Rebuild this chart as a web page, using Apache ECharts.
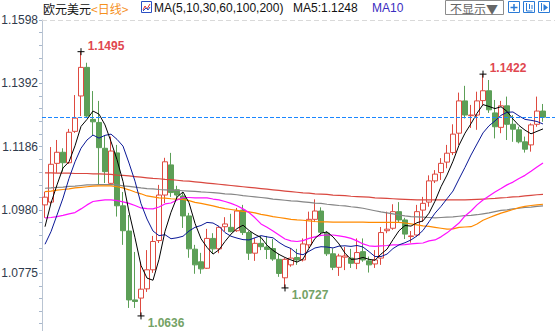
<!DOCTYPE html>
<html>
<head>
<meta charset="utf-8">
<script src="https://cdn.jsdelivr.net/npm/echarts@6/dist/echarts.min.js"></script>
<style>
html,body{margin:0;padding:0;background:#fff;}
#chart{width:555px;height:331px;}
</style>
</head>
<body>
<div id="chart"></div>
<script>
// ---- data ----
const days = ['1','2','3','4','5','6','7','8','9','10','11','12','13','14','15','16','17','18','19','20',
 '21','22','23','24','25','26','27','28','29','30','31','32','33','34','35','36','37','38','39','40',
 '41','42','43','44','45','46','47','48','49','50','51','52','53','54','55','56','57','58','59','60',
 '61','62','63','64','65','66','67','68','69','70','71','72','73','74','75','76','77','78','79','80',
 '81','82','83','84'];
const padDays = ['', ''];

const opens = [1.0997,1.1006,1.1132,1.1168,1.1134,1.1236,1.1351,1.1444,1.1275,1.1265,
 1.1181,1.1067,1.1166,1.0994,1.0912,1.0688,1.0694,1.0724,1.0786,1.0881,
 1.1029,1.1127,1.1046,1.1026,1.0961,1.0853,1.0812,1.0791,1.0888,1.0854,
 1.0926,1.0924,1.0913,1.0980,1.0907,1.0840,1.0872,1.0860,1.0855,1.0820,
 1.0760,1.0802,1.0826,1.0818,1.0867,1.0950,1.0977,1.0905,1.0838,1.0794,
 1.0827,1.0824,1.0807,1.0845,1.0815,1.0805,1.0824,1.0913,1.0921,1.0975,
 1.0948,1.0894,1.0899,1.0980,1.1006,1.1075,1.1102,1.1136,1.1167,1.1230,
 1.1335,1.1287,1.1289,1.1336,1.1368,1.1296,1.1249,1.1319,1.1259,1.1241,
 1.1202,1.1192,1.1259,1.1302];
const closes = [1.1022,1.1129,1.1168,1.1134,1.1233,1.1279,1.1444,1.1286,1.1267,1.1183,
 1.1105,1.1172,1.0994,1.0913,1.0688,1.0683,1.0723,1.0786,1.0878,1.1029,
 1.1137,1.1037,1.1029,1.0961,1.0854,1.0802,1.0789,1.0888,1.0854,1.0924,
 1.0935,1.0910,1.0977,1.0907,1.0840,1.0872,1.0861,1.0852,1.0821,1.0774,
 1.0820,1.0824,1.0818,1.0870,1.0950,1.0977,1.0908,1.0838,1.0794,1.0831,
 1.0831,1.0807,1.0842,1.0818,1.0802,1.0818,1.0907,1.0918,1.0975,1.0948,
 1.0902,1.0896,1.0975,1.1002,1.1075,1.1097,1.1132,1.1165,1.1227,1.1335,
 1.1289,1.1289,1.1335,1.1368,1.1306,1.1251,1.1319,1.1259,1.1243,1.1202,
 1.1178,1.1257,1.1302,1.1282];
const lows = [1.0955,1.0999,1.1101,1.1105,1.1130,1.1231,1.1286,1.1280,1.1224,1.1062,
 1.1068,1.1062,1.0959,1.0867,1.0662,1.0662,1.0636,1.0714,1.0776,1.0873,
 1.1003,1.1023,1.1016,1.0922,1.0825,1.0773,1.0773,1.0789,1.0840,1.0840,
 1.0910,1.0908,1.0909,1.0899,1.0818,1.0815,1.0850,1.0821,1.0815,1.0763,
 1.0727,1.0796,1.0802,1.0813,1.0857,1.0941,1.0896,1.0831,1.0785,1.0766,
 1.0785,1.0792,1.0788,1.0812,1.0777,1.0792,1.0802,1.0905,1.0916,1.0939,
 1.0886,1.0874,1.0894,1.0942,1.0991,1.1068,1.1078,1.1116,1.1159,1.1192,
 1.1278,1.1247,1.1241,1.1322,1.1296,1.1213,1.1230,1.1208,1.1202,1.1197,
 1.1167,1.1170,1.1251,1.1267];
const highs = [1.1040,1.1185,1.1208,1.1181,1.1244,1.1354,1.1495,1.1459,1.1367,1.1335,
 1.1224,1.1219,1.1192,1.1039,1.0964,1.0844,1.0812,1.0850,1.0896,1.1062,
 1.1150,1.1166,1.1059,1.1036,1.0971,1.0867,1.0841,1.0919,1.0905,1.0928,
 1.0957,1.0968,1.0987,1.0997,1.0912,1.0889,1.0896,1.0896,1.0886,1.0838,
 1.0824,1.0856,1.0854,1.0888,1.0975,1.1015,1.0989,1.0912,1.0856,1.0838,
 1.0860,1.0854,1.0888,1.0888,1.0829,1.0850,1.0925,1.0975,1.0999,1.1006,
 1.0955,1.0912,1.0997,1.1023,1.1093,1.1110,1.1149,1.1192,1.1259,1.1362,
 1.1384,1.1322,1.1365,1.1422,1.1403,1.1338,1.1335,1.1349,1.1289,1.1251,
 1.1219,1.1262,1.1349,1.1325];

// MA5 / MA10 values at the first points (their windows start before the visible range)
const ma5Head = [1.0926,1.1003,1.1062,1.1117];
const ma10Head = [1.0869,1.0910,1.0964,1.1019,1.1083,1.1137,1.1181,1.1208,1.1224];

const ma30 = [1.0955,1.0956,1.0959,1.0963,1.0968,1.0972,1.0984,1.0997,1.1008,1.1011,
 1.1013,1.1013,1.1011,1.1007,1.1002,1.0995,1.0987,1.0985,1.0984,1.0990,
 1.1000,1.1003,1.1013,1.1021,1.1021,1.1020,1.1020,1.1020,1.1016,1.1013,
 1.1008,1.1002,1.0994,1.0984,1.0972,1.0955,1.0935,1.0924,1.0912,1.0899,
 1.0886,1.0880,1.0878,1.0881,1.0888,1.0893,1.0898,1.0899,1.0899,1.0896,
 1.0893,1.0888,1.0880,1.0870,1.0864,1.0862,1.0864,1.0865,1.0867,1.0867,
 1.0868,1.0870,1.0872,1.0873,1.0880,1.0883,1.0893,1.0906,1.0922,1.0938,
 1.0961,1.0977,1.0997,1.1013,1.1026,1.1039,1.1050,1.1062,1.1071,1.1083,
 1.1093,1.1106,1.1120,1.1133];
const ma60 = [1.1040,1.1042,1.1045,1.1047,1.1049,1.1052,1.1054,1.1056,1.1058,1.1059,
 1.1059,1.1059,1.1056,1.1052,1.1046,1.1039,1.1033,1.1026,1.1023,1.1020,
 1.1019,1.1017,1.1016,1.1015,1.1011,1.1005,1.1002,1.0998,1.0994,1.0989,
 1.0985,1.0982,1.0979,1.0976,1.0974,1.0971,1.0966,1.0963,1.0959,1.0956,
 1.0953,1.0950,1.0948,1.0947,1.0945,1.0943,1.0942,1.0942,1.0941,1.0941,
 1.0941,1.0941,1.0941,1.0941,1.0940,1.0940,1.0940,1.0940,1.0940,1.0940,
 1.0938,1.0935,1.0932,1.0929,1.0927,1.0924,1.0921,1.0918,1.0919,1.0924,
 1.0925,1.0926,1.0935,1.0947,1.0955,1.0963,1.0970,1.0976,1.0982,1.0988,
 1.0992,1.0995,1.0997,1.0999];
const ma100 = [1.1051,1.1052,1.1054,1.1055,1.1057,1.1058,1.1060,1.1062,1.1062,1.1063,
 1.1063,1.1063,1.1062,1.1059,1.1057,1.1055,1.1052,1.1050,1.1049,1.1047,
 1.1046,1.1045,1.1044,1.1043,1.1042,1.1041,1.1039,1.1038,1.1037,1.1035,
 1.1033,1.1032,1.1030,1.1027,1.1025,1.1023,1.1021,1.1019,1.1016,1.1014,
 1.1012,1.1010,1.1009,1.1007,1.1005,1.1003,1.1002,1.0999,1.0997,1.0995,
 1.0994,1.0991,1.0989,1.0986,1.0982,1.0978,1.0974,1.0971,1.0968,1.0964,
 1.0961,1.0959,1.0958,1.0957,1.0956,1.0955,1.0956,1.0957,1.0958,1.0960,
 1.0962,1.0963,1.0965,1.0968,1.0971,1.0975,1.0979,1.0981,1.0984,1.0986,
 1.0989,1.0990,1.0992,1.0994];
const ma200 = [1.1101,1.1101,1.1100,1.1100,1.1100,1.1099,1.1099,1.1099,1.1098,1.1098,
 1.1097,1.1096,1.1094,1.1093,1.1091,1.1089,1.1087,1.1085,1.1083,1.1082,
 1.1080,1.1079,1.1077,1.1075,1.1074,1.1072,1.1070,1.1068,1.1066,1.1064,
 1.1062,1.1060,1.1058,1.1056,1.1054,1.1052,1.1050,1.1048,1.1046,1.1044,
 1.1042,1.1040,1.1038,1.1036,1.1035,1.1033,1.1032,1.1031,1.1029,1.1028,
 1.1027,1.1025,1.1024,1.1023,1.1022,1.1020,1.1019,1.1018,1.1017,1.1016,
 1.1015,1.1014,1.1013,1.1013,1.1013,1.1013,1.1013,1.1013,1.1013,1.1013,
 1.1013,1.1014,1.1015,1.1016,1.1017,1.1018,1.1020,1.1021,1.1023,1.1024,
 1.1026,1.1028,1.1030,1.1031];

const yLabels = [1.1598, 1.1392, 1.1186, 1.0980, 1.0775];
const yMin = 1.0587, yMax = 1.1598;

// marked extremes: candle indices
const markHigh = [6, 73];
const markLow = [16, 40];

const titleText = '欧元美元';
const periodText = '<日线>';
const maTitle = 'MA(5,10,30,60,100,200)';
const ma5Text = 'MA5:1.1248';
const ma10Text = 'MA10';
const hideText = '不显示▼';

// ---- build ----
function movingAvg(period, head) {
  return closes.map((c, i) => {
    if (i < period - 1) return head[i];
    let s = 0;
    for (let k = i - period + 1; k <= i; k++) s += closes[k];
    return +(s / period).toFixed(4);
  });
}
const ma5 = movingAvg(5, ma5Head);
const ma10 = movingAvg(10, ma10Head);

const tickVals = [];
for (let j = 0; j < yLabels.length - 1; j++) {
  const a = yLabels[j], b = yLabels[j + 1];
  for (let k = 0; k < 5; k++) tickVals.push(a + (b - a) * k / 5);
}
{
  const step = (yLabels[yLabels.length - 2] - yLabels[yLabels.length - 1]) / 5;
  let v = yLabels[yLabels.length - 1];
  while (v > yMin) { tickVals.push(v); v -= step; }
}

const candleData = opens.map((o, i) => [o, closes[i], lows[i], highs[i]]);

const crossSymbol = 'path://M0,5L10,5M5,0L5,10';
const markData = [];
markHigh.forEach(i => markData.push({
  coord: [i, highs[i]], value: highs[i],
  label: { color: '#e0474f', offset: [25, -6] }
}));
markLow.forEach(i => markData.push({
  coord: [i, lows[i]], value: lows[i],
  label: { color: '#74a266', offset: [25, 7] }
}));

const chart = echarts.init(document.getElementById('chart'), null, { renderer: 'svg' });

const lineSeries = (name, data, color, width) => ({
  name, type: 'line', data, symbol: 'none', silent: true,
  lineStyle: { color, width }, z: 3, animation: false
});

const cjk = '12px "Noto Sans CJK SC"';
const lat = '12px "Liberation Sans"';
const headText = (x, text, fill, font) => ({
  type: 'text', x, y: 8,
  style: { text, fill, font, verticalAlign: 'middle', align: 'left', lineHeight: 13 }
});

const iconStroke = '#2b7bd6';
const headerGraphics = [
  headText(43, titleText, '#111', cjk),
  headText(91, periodText, '#f5901e', cjk),
  { type: 'rect', shape: { x: 141.5, y: 1.5, width: 10, height: 11 }, style: { fill: '#fff', stroke: '#2a4fc4', lineWidth: 1 } },
  { type: 'polyline', shape: { points: [[143, 10], [145, 6], [147, 9], [150, 4]] }, style: { fill: 'none', stroke: '#d33', lineWidth: 1 } },
  { type: 'polyline', shape: { points: [[143, 11], [146, 8], [148, 10], [150, 7]] }, style: { fill: 'none', stroke: '#2a4fc4', lineWidth: 1 } },
  headText(154, maTitle, '#111', lat),
  headText(293, ma5Text, '#111', lat),
  headText(372, ma10Text, '#3a2cc0', lat),
  { type: 'rect', shape: { x: 445.5, y: 0.5, width: 58, height: 14 }, style: { fill: '#fff', stroke: '#8c8c8c', lineWidth: 1 } },
  headText(450, hideText, '#666', cjk),
  { type: 'rect', shape: { x: 508.5, y: 1.5, width: 11, height: 11 }, style: { fill: '#fff', stroke: iconStroke, lineWidth: 1 } },
  { type: 'polyline', shape: { points: [[514, 4], [514, 11]] }, style: { stroke: iconStroke, lineWidth: 1.5 } },
  { type: 'polyline', shape: { points: [[510.5, 7.5], [517.5, 7.5]] }, style: { stroke: iconStroke, lineWidth: 1.5 } },
  { type: 'rect', shape: { x: 523.5, y: 1.5, width: 11, height: 11 }, style: { fill: '#fff', stroke: iconStroke, lineWidth: 1 } },
  { type: 'polyline', shape: { points: [[526.5, 3], [526.5, 11], [532.5, 11]] }, style: { fill: 'none', stroke: iconStroke, lineWidth: 1 } },
  { type: 'polyline', shape: { points: [[529.5, 4], [529.5, 9]] }, style: { stroke: iconStroke, lineWidth: 1 } },
  { type: 'polyline', shape: { points: [[532, 5], [532, 9]] }, style: { stroke: iconStroke, lineWidth: 1 } },
  { type: 'rect', shape: { x: 538.5, y: 1.5, width: 11, height: 11 }, style: { fill: '#fff', stroke: iconStroke, lineWidth: 1 } },
  { type: 'polyline', shape: { points: [[541.5, 3], [541.5, 11]] }, style: { stroke: iconStroke, lineWidth: 1 } },
  { type: 'polygon', shape: { points: [[543.5, 4], [548, 7.5], [543.5, 11]] }, style: { fill: iconStroke } }
];

chart.setOption({
  animation: false,
  textStyle: { fontFamily: 'Liberation Sans' },
  grid: { left: 42, right: -3, top: 20, bottom: 0, containLabel: false, outerBoundsMode: 'none' },
  xAxis: {
    type: 'category', data: days.concat(padDays), boundaryGap: true,
    axisLine: { show: false }, axisTick: { show: false }, axisLabel: { show: false },
    splitLine: { show: false }
  },
  yAxis: {
    type: 'value', min: yMin, max: yMax, scale: true,
    axisLine: { show: true, lineStyle: { color: '#b9c4d2', width: 1 } },
    axisTick: { show: true, customValues: tickVals, length: 3, inside: false, lineStyle: { color: '#a9b8cc' } },
    axisLabel: {
      customValues: yLabels, margin: 4, color: '#2f3a4c', fontSize: 12,
      fontFamily: 'Liberation Sans', formatter: v => v.toFixed(4)
    },
    splitLine: { show: false }
  },
  series: [
    {
      type: 'candlestick', data: candleData, barWidth: 5, silent: true,
      itemStyle: {
        color: '#ffffff', color0: '#5c9f57',
        borderColor: '#de4a40', borderColor0: '#5c9f57', borderWidth: 1
      },
      markPoint: {
        silent: true, animation: false,
        symbol: crossSymbol, symbolSize: 7,
        itemStyle: { color: 'none', borderColor: '#000', borderWidth: 1 },
        label: {
          show: true, position: 'inside', fontWeight: 'bold', fontSize: 12,
          fontFamily: 'Liberation Sans', formatter: p => p.value.toFixed(4)
        },
        data: markData
      }
    },
    lineSeries('MA200', ma200, '#d9473f', 1.2),
    lineSeries('MA100', ma100, '#858585', 1.2),
    lineSeries('MA60', ma60, '#ff8a00', 1.2),
    lineSeries('MA30', ma30, '#ff10ff', 1.2),
    lineSeries('MA10', ma10, '#0a1896', 1),
    lineSeries('MA5', ma5, '#000000', 1)
  ],
  graphic: headerGraphics
});

// horizontal reference lines placed through the chart's own y scale
const yTop = Math.round(chart.convertToPixel({ yAxisIndex: 0 }, yLabels[0])) + 0.5;
const yLast = Math.round(chart.convertToPixel({ yAxisIndex: 0 }, closes[closes.length - 1])) + 0.5;
chart.setOption({
  graphic: headerGraphics.concat([
    { type: 'line', silent: true, z: 1, shape: { x1: 42, y1: yTop, x2: 555, y2: yTop },
      style: { stroke: '#d9d9d9', lineWidth: 1, lineDash: [5, 3] } },
    { type: 'line', silent: true, z: 100, shape: { x1: 42, y1: yLast, x2: 555, y2: yLast },
      style: { stroke: '#1a86ff', lineWidth: 1, lineDash: [4, 2] } }
  ])
});
</script>
</body>
</html>
